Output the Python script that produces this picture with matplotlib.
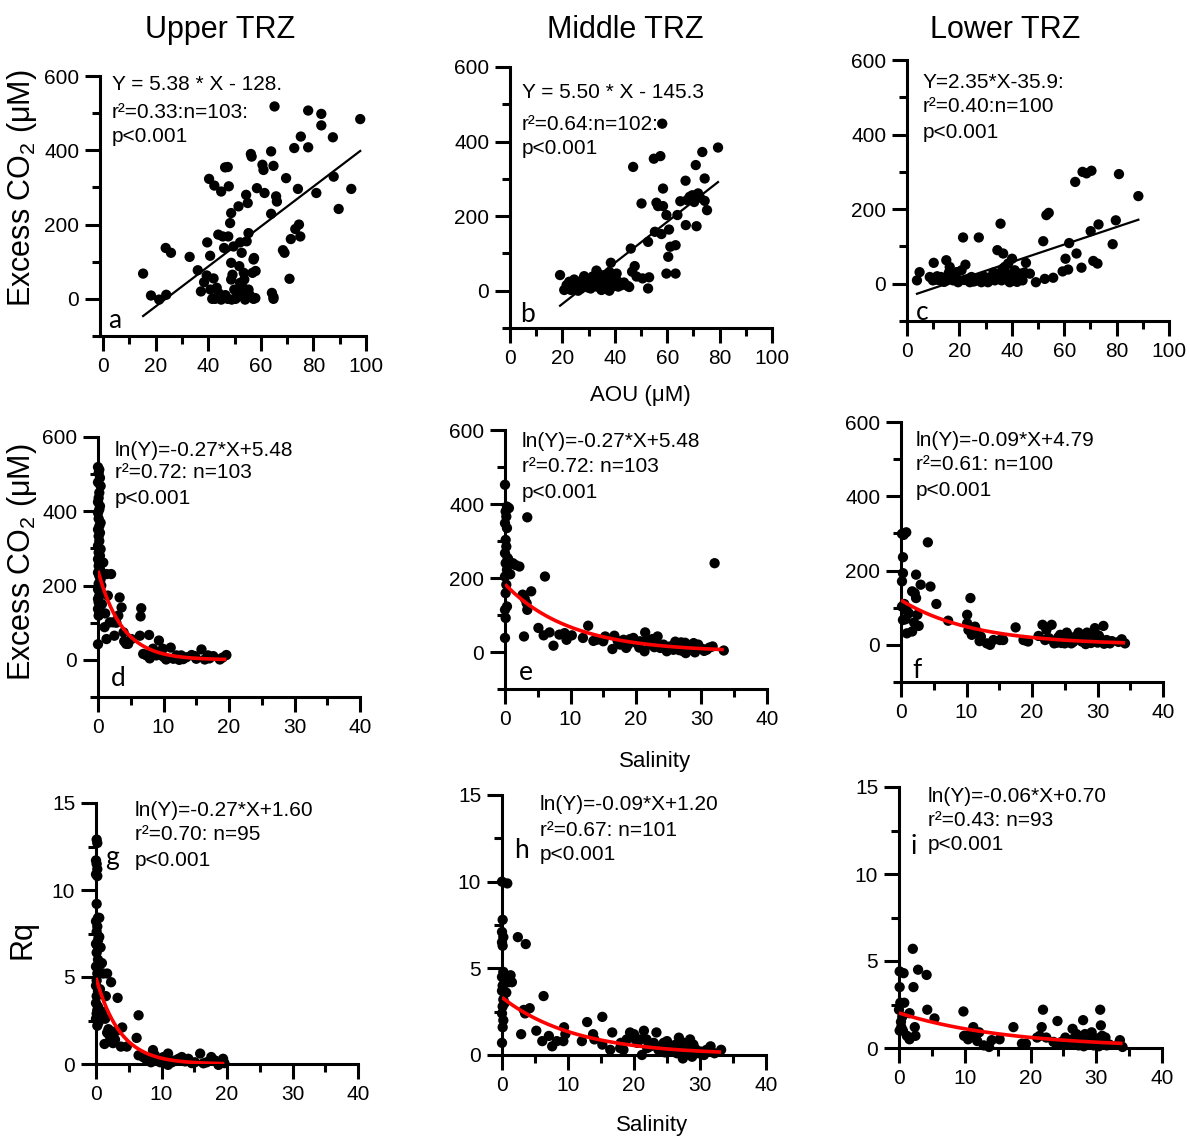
import numpy as np
import matplotlib.pyplot as plt
from matplotlib.ticker import MultipleLocator

plt.rcParams['font.family'] = ['Liberation Sans', 'DejaVu Sans']
plt.rcParams['mathtext.fontset'] = 'custom'
plt.rcParams['mathtext.rm'] = 'Liberation Sans'
plt.rcParams['mathtext.it'] = 'Liberation Sans:italic'

# ---- AOU vs excess CO2 (top row) ----
a_x = [15.2, 18.2, 21.3, 23.8, 24.0, 25.8, 32.9, 36.0, 37.2, 38.4,
       39.4, 39.6, 40.3, 40.7, 40.8, 41.5, 42.3, 42.6, 43.2, 43.8,
       44.9, 44.9, 45.5, 46.0, 46.4, 47.4, 47.4, 47.6, 47.8, 48.3,
       48.7, 48.7, 48.7, 48.9, 49.6, 49.9, 50.4, 51.5, 51.8, 52.1,
       52.1, 52.7, 53.1, 53.7, 54.0, 54.4, 54.6, 55.0, 55.3, 55.3,
       56.2, 56.5, 56.8, 57.2, 57.2, 57.4, 58.5, 60.6, 61.0, 61.4,
       63.9, 63.9, 64.2, 64.8, 64.8, 64.8, 65.2, 65.8, 66.1, 68.4,
       69.0, 69.6, 70.9, 71.4, 72.7, 73.1, 74.1, 74.5, 75.0, 75.2,
       78.0, 78.0, 81.1, 83.0, 83.0, 87.4, 87.7, 89.6, 94.4, 97.8,
       46.5, 50.8, 52.8, 55.8, 57.9, 44.0, 49.2, 53.5, 42.0, 58.0]
a_y = [68, 9, -2, 137, 11, 124, 113, 77, 20, 45,
       63, 152, 323, 116, 25, 0, 305, 0, 30, 173,
       289, -2, 168, 137, 354, 355, 0, 168, 303, 204,
       231, 97, 52, -2, 141, 25, 0, 249, 88, 152,
       43, 124, 16, 52, -2, 280, 155, 258, 177, 25,
       390, 383, 70, 106, 0, 110, 298, 361, 347, 285,
       229, 397, 16, 5, 358, 0, 518, 276, 262, 131,
       124, 325, 54, 161, 406, 188, 296, 200, 168, 437,
       408, 507, 285, 498, 467, 435, 329, 242, 296, 484,
       10, 5, 35, 10, 2, 15, 65, 70, 55, 75]

b_x = [19.1, 20.7, 21.6, 22.6, 23.3, 23.9, 24.8, 25.4, 26.1, 26.7,
       27.7, 28.3, 29.0, 29.6, 30.2, 31.1, 32.1, 33.0, 33.4, 34.3,
       34.9, 35.6, 36.2, 36.8, 37.5, 37.9, 38.5, 39.1, 40.0, 40.7,
       41.3, 42.6, 44.9, 46.1, 46.6, 47.0, 47.6, 48.3, 50.2, 50.6,
       52.7, 52.7, 53.1, 54.9, 55.3, 55.9, 56.5, 57.4, 57.8, 58.1,
       58.4, 58.4, 59.7, 59.7, 60.4, 60.7, 61.2, 63.2, 63.2, 63.9,
       67.0, 67.1, 67.6, 68.6, 69.6, 70.3, 70.9, 71.2, 71.8, 73.4,
       74.3, 74.3, 75.2, 79.4,
       22.0, 25.0, 27.0, 28.5, 30.8, 32.5, 35.0, 37.0, 39.5, 43.5,
       24.5, 31.5, 34.0, 38.0, 36.0, 26.0, 29.5, 33.8, 41.0, 45.5,
       65.0, 72.5]
b_y = [42, 2, 15, 24, 2, 11, 20, 2, 24, 11,
       15, 39, 20, 9, 29, 15, 24, 54, 11, 29,
       2, 20, 42, 6, 29, 0, 75, 11, 20, 46,
       11, 15, 13, 113, 51, 332, 66, 38, 234, 33,
       131, 6, 36, 354, 158, 236, 227, 361, 152, 448,
       274, 227, 203, 46, 91, 164, 118, 122, 46, 203,
       295, 176, 243, 252, 256, 238, 337, 173, 261, 372,
       301, 241, 216, 384,
       8, 14, 5, 22, 6, 12, 30, 18, 34, 22,
       30, 38, 44, 50, 8, 0, 30, 22, 26, 10,
       240, 250]

c_x = [3.8, 4.8, 8.7, 9.9, 10.2, 11.2, 12.5, 13.8, 15.0, 15.3,
       16.3, 16.9, 17.6, 18.9, 20.1, 20.8, 21.4, 22.3, 23.3, 24.6,
       26.5, 27.4, 28.4, 29.7, 30.9, 32.2, 33.5, 34.5, 35.2, 35.7,
       36.1, 36.7, 37.3, 38.0, 38.6, 39.2, 40.1, 41.1, 43.1, 44.1,
       45.4, 46.9, 49.2, 52.0, 52.6, 53.2, 54.1, 55.8, 59.4, 60.5,
       61.5, 61.9, 64.7, 66.6, 64.2, 67.0, 68.5, 70.4, 70.1, 71.1,
       72.7, 73.1, 78.5, 79.7, 80.9, 88.3,
       11.5, 14.2, 18.0, 19.5, 22.0, 25.5, 27.8, 31.5, 34.0, 36.5,
       37.8, 39.8, 42.0, 44.8, 33.0, 30.0, 24.0, 16.0, 13.0, 40.5]
c_y = [9, 31, 18, 9, 56, 11, 9, 13, 63, 9,
       45, 18, 9, 31, 9, 36, 124, 51, 13, 18,
       9, 124, 4, 18, 4, 18, 9, 90, 27, 161,
       9, 81, 45, 27, 54, 4, 67, 36, 27, 9,
       56, 27, 4, 114, 13, 184, 190, 16, 33, 67,
       38, 109, 81, 43, 273, 300, 296, 303, 141, 61,
       54, 159, 106, 170, 294, 235,
       20, 5, 22, 4, 10, 6, 15, 10, 22, 40,
       12, 20, 5, 30, 30, 8, 4, 30, 18, 8]

# ---- salinity vs excess CO2 (middle row) ----
d_x = [0.0, 0.2, 0.1, 0.3, 0.0, 0.4, 0.2, 0.1, 0.0, 0.3,
       0.2, 0.0, 0.1, 0.4, 0.2, 0.0, 0.3, 0.1, 0.2, 0.0,
       0.4, 0.1, 0.3, 0.0, 0.2, 0.1, 0.3, 0.0, 0.2, 0.4,
       0.1, 0.0, 0.3, 0.2, 0.0, 0.1, 0.3, 0.0, 0.2, 0.1, 0.0,
       0.8, 1.3, 2.0, 1.5, 1.3, 1.0, 1.8, 2.3, 2.5, 3.1,
       3.3, 3.6, 3.9, 4.3, 4.6, 5.1, 6.4, 6.6, 6.5, 6.9,
       7.4, 7.8, 7.9, 8.4, 8.9, 9.3, 9.9, 10.4, 11.1, 11.5,
       12.0, 12.7, 13.5, 14.3, 15.0, 15.8, 16.3, 17.6, 18.6, 19.6,
       8.0, 10.0, 11.8, 13.0, 14.8, 17.0, 19.0, 9.5, 12.4, 16.8,
       0.6, 0.5, 1.1, 2.8, 4.0]
d_y = [519, 512, 503, 490, 478, 468, 450, 436, 425, 414,
       405, 396, 380, 369, 360, 351, 342, 333, 320, 307,
       298, 289, 280, 271, 262, 253, 244, 235, 226, 217,
       205, 190, 182, 173, 164, 155, 146, 137, 128, 119, 42,
       262, 231, 231, 173, 56, 88, 101, 101, 65, 119,
       168, 141, 74, 43, 43, 56, 65, 139, 117, 16,
       12, 67, 4, 30, 12, 52, 30, 1, 33, 3,
       12, 12, 7, 13, 3, 28, 1, 10, 1, 13,
       20, 8, 5, 2, 10, 4, 6, 15, 0, 12,
       150, 200, 125, 100, 50]

e_x = [0.0, 0.3, 0.1, 0.2, 0.0, 0.3, 0.1, 0.2, 0.0, 0.4,
       0.1, 0.3, 0.0, 0.2, 0.1, 0.3, 0.0, 0.1, 0.0,
       0.6, 1.2, 2.2, 2.7, 2.9, 3.3, 3.4, 3.4, 4.0, 5.1,
       6.1, 5.9, 6.8, 7.4, 8.3, 9.1, 9.4, 11.9, 12.7, 14.0,
       15.0, 15.3, 16.4, 16.7, 17.6, 18.1, 18.5, 19.1, 19.6, 20.1,
       20.6, 21.3, 21.4, 21.6, 22.1, 22.8, 23.3, 23.7, 24.2, 24.7,
       25.2, 25.7, 26.2, 26.9, 27.2, 27.6, 27.8, 28.3, 28.8, 29.0,
       29.7, 30.4, 30.8, 31.7, 32.0, 33.4,
       0.5, 0.8, 1.6, 3.0, 13.5, 18.8, 23.0, 24.5, 25.8, 26.6,
       27.5, 28.6, 29.5, 30.2, 31.2, 26.0, 22.5, 20.5, 17.2, 10.2]
e_y = [452, 393, 380, 366, 348, 335, 303, 285, 267, 254,
       240, 222, 204, 182, 159, 123, 114, 92, 38,
       389, 240, 231, 155, 42, 132, 364, 114, 164, 65,
       204, 45, 53, 17, 47, 51, 33, 38, 71, 33,
       29, 42, 8, 44, 20, 33, 11, 35, 38, 24,
       29, 2, 53, 33, 20, 13, 42, 11, 20, 2,
       15, 6, 11, 26, 2, -3, 17, 6, 24, -1,
       11, 3, 6, 15, 240, 4,
       250, 210, 235, 145, 30, 20, 25, 10, 18, 5,
       25, 12, 20, 8, 12, 28, 35, 12, 30, 45]

f_x = [0.15, 0.8, 0.4, 0.3, 0.3, 0.15, 0.15, 0.3, 0.7, 0.9,
       0.9, 1.7, 1.7, 2.1, 2.3, 2.3, 2.5, 2.7, 3.0, 4.1,
       4.5, 5.4, 7.2, 10.1, 10.1, 10.6, 10.3, 10.8, 11.3, 11.6,
       12.2, 13.1, 13.6, 14.1, 15.1, 15.6, 17.5, 18.7, 19.4, 21.0,
       21.6, 22.0, 22.2, 23.0, 23.4, 23.8, 24.3, 24.7, 25.0, 25.3,
       25.8, 26.0, 26.5, 27.1, 27.6, 27.8, 28.2, 28.4, 28.8, 29.2,
       29.6, 30.0, 30.4, 30.9, 31.0, 31.4, 31.9, 33.7, 34.2,
       11.0, 12.0, 24.0, 25.5, 26.3, 26.8, 27.4, 28.0, 28.6, 29.0,
       29.8, 30.2, 30.7, 31.2, 32.2, 33.2, 19.0, 22.6, 24.5, 0.5,
       1.2, 2.0]
f_y = [299, 303, 296, 236, 193, 171, 103, 67, 69, 92,
       31, 36, 144, 139, 126, 189, 81, 51, 162, 276,
       157, 110, 65, 81, 58, 126, 40, 27, 49, 36,
       22, 4, 0, 13, 13, 13, 47, 13, 9, 24,
       54, 13, 40, 54, 4, 6, 27, 13, 4, 33,
       13, 4, 21, 33, 9, 22, 2, 33, 13, 27,
       45, 6, 18, 51, 3, 13, 4, 15, 4,
       30, 10, 20, 25, 8, 15, 25, 10, 20, 5,
       12, 25, 8, 5, 10, 8, 12, 18, 5, 110,
       85, 60]

# ---- salinity vs Rq (bottom row) ----
g_x = [0.1, 0.2, 0.0, 0.1, 0.2, 0.0, 0.2, 0.1, 0.3, 0.0,
       0.2, 0.1, 0.4, 0.3, 0.0, 0.2, 0.1, 0.3, 0.0, 0.2,
       0.1, 0.0, 0.3, 0.1, 0.0, 0.2, 0.1, 0.0, 0.2,
       0.5, 0.5, 0.6, 0.7, 0.9, 1.1, 1.4, 1.3, 1.7, 2.3,
       1.5, 1.7, 2.1, 2.6, 3.3, 3.1, 4.0, 3.8, 4.7, 6.5,
       6.2, 6.5, 7.2, 8.0, 8.7, 9.3, 10.3, 11.0, 11.0, 12.0,
       13.1, 14.1, 15.1, 15.9, 16.4, 17.6, 18.7, 19.4,
       7.6, 8.4, 9.0, 9.8, 10.7, 11.6, 12.6, 13.6, 14.6, 16.9,
       18.2, 19.6, 0.3, 0.4, 0.6, 1.0, 1.9, 2.9]
g_y = [12.9, 12.7, 11.7, 11.5, 11.2, 10.9, 10.8, 9.2, 8.4, 8.2,
       7.9, 7.6, 7.3, 7.1, 6.9, 6.8, 6.4, 6.0, 5.6, 5.2,
       4.8, 4.5, 4.2, 3.9, 3.5, 3.1, 2.9, 2.6, 2.2,
       8.4, 7.3, 5.7, 6.7, 5.8, 5.2, 2.6, 1.15, 5.2, 4.7,
       3.9, 1.8, 1.6, 1.2, 3.8, 1.9, 2.1, 1.0, 1.0, 2.8,
       1.5, 0.5, 0.4, 0.2, 0.8, 0.3, 0.4, 0.6, -0.05, 0.2,
       0.4, 0.3, 0.1, 0.6, 0.04, 0.4, -0.05, 0.3,
       0.3, 0.1, 0.5, 0.1, 0.2, 0.1, 0.3, 0.15, 0.05, 0.1,
       0.2, 0.05, 3.3, 2.4, 4.3, 3.0, 2.0, 1.4]

h_x = [0.0, 0.1, 0.0, 0.2, 0.0, 0.1, 0.2, 0.0, 0.3, 0.1,
       0.0, 0.2, 0.1, 0.0, 0.2, 0.1, 0.0,
       0.8, 0.5, 0.65, 1.3, 1.5, 2.4, 2.9, 3.3, 3.6, 3.5,
       4.2, 5.2, 6.1, 6.3, 7.1, 7.6, 8.3, 9.3, 9.4, 12.1,
       12.9, 13.8, 14.0, 15.2, 15.2, 16.4, 16.7, 17.9, 18.4, 18.9,
       19.4, 19.8, 20.5, 21.2, 21.5, 21.9, 22.5, 23.4, 23.7, 24.5,
       24.7, 25.3, 25.8, 26.3, 26.8, 27.0, 27.4, 27.6, 28.0, 28.5,
       28.8, 29.3, 30.1, 30.6, 31.6, 33.2,
       20.0, 21.0, 22.0, 24.0, 25.0, 26.0, 27.2, 28.2, 29.0, 29.8,
       31.0, 32.2, 1.0, 0.4, 9.6, 18.0, 26.5, 23.0]
h_y = [10.0, 7.8, 7.1, 6.8, 6.5, 6.3, 4.8, 4.5, 4.1, 4.0,
       3.7, 3.2, 2.8, 2.4, 2.0, 1.6, 0.7,
       9.9, 4.5, 3.6, 4.6, 4.2, 6.8, 1.2, 2.6, 6.4, 2.4,
       2.7, 1.4, 0.8, 3.4, 1.1, 0.5, 0.8, 0.8, 1.6, 0.8,
       1.9, 1.2, 0.9, 2.2, 0.6, 0.3, 1.3, 0.4, 0.3, 0.9,
       1.3, 1.0, 0.7, 0.0, 1.4, 0.9, 0.5, 1.3, 0.3, 0.7,
       0.15, 0.5, 0.2, 0.6, 1.0, 0.3, -0.2, 0.7, 0.5, 0.9,
       -0.1, 0.35, 0.2, 0.0, 0.5, 0.3,
       1.2, 0.9, 0.4, 0.5, 0.8, 0.4, 0.6, 0.2, 0.6, 0.1,
       0.3, 0.1, 4.2, 3.0, 1.2, 0.7, 0.1, 0.7]

i_x = [0.1, 0.7, 0.1, 0.2, 0.0, 0.35, 0.1, 0.6, 0.8, 1.2,
       1.6, 1.6, 2.1, 2.2, 2.4, 2.5, 2.9, 4.2, 4.3, 5.4,
       9.8, 9.9, 10.5, 11.3, 11.5, 12.2, 12.9, 13.7, 14.1, 15.3,
       17.4, 18.7, 19.3, 21.0, 21.7, 21.9, 22.4, 23.5, 24.1, 24.7,
       25.3, 25.8, 26.4, 26.6, 27.0, 27.3, 28.0, 28.3, 28.6, 28.8,
       29.3, 29.6, 30.1, 30.6, 30.7, 31.0, 31.4, 31.6, 33.6, 34.0,
       10.8, 11.9, 24.4, 25.5, 26.2, 27.6, 28.1, 29.0, 29.9, 30.4,
       31.2, 32.0, 33.3, 21.4, 27.8, 30.9, 0.3, 0.5]
i_y = [4.4, 4.3, 3.5, 2.6, 2.2, 1.2, 1.0, 1.0, 2.6, 0.7,
       0.5, 2.0, 5.7, 3.5, 1.2, 0.7, 4.5, 4.2, 2.2, 1.7,
       2.1, 0.7, 0.5, 1.2, 0.6, 0.9, 0.15, 0.06, 0.45, 0.5,
       1.2, 0.25, 0.25, 0.6, 1.2, 2.2, 0.6, 0.35, 1.55, 0.35,
       0.6, 0.2, 1.1, 0.55, 0.8, 0.15, 1.6, 0.8, 0.25, 0.55,
       0.9, 0.15, 0.55, 2.2, 1.3, 0.25, 0.6, 0.15, 0.45, 0.06,
       0.8, 0.4, 0.2, 0.4, 0.3, 0.3, 0.1, 0.3, 0.4, 0.1,
       0.4, 0.2, 0.2, 0.7, 0.6, 0.7, 1.5, 1.8]

# regression lines: Y = m*X + b (top row), ln(Y) = m*X + b (rows 2-3)
lin_slope = [5.38, 5.50, 2.35]
lin_icept = [-128.0, -145.3, -35.9]
exp_slope = [-0.27, -0.10, -0.09, -0.27, -0.09, -0.06]
exp_icept = [5.48, 5.21, 4.79, 1.60, 1.20, 0.70]

stats = [
    ['Y = 5.38 * X - 128.', 'r²=0.33:n=103:', 'p<0.001'],
    ['Y = 5.50 * X - 145.3', 'r²=0.64:n=102:', 'p<0.001'],
    ['Y=2.35*X-35.9:', 'r²=0.40:n=100', 'p<0.001'],
    ['ln(Y)=-0.27*X+5.48', 'r²=0.72: n=103', 'p<0.001'],
    ['ln(Y)=-0.27*X+5.48', 'r²=0.72: n=103', 'p<0.001'],
    ['ln(Y)=-0.09*X+4.79', 'r²=0.61: n=100', 'p<0.001'],
    ['ln(Y)=-0.27*X+1.60', 'r²=0.70: n=95', 'p<0.001'],
    ['ln(Y)=-0.09*X+1.20', 'r²=0.67: n=101', 'p<0.001'],
    ['ln(Y)=-0.06*X+0.70', 'r²=0.43: n=93', 'p<0.001'],
]
letters = ['a', 'b', 'c', 'd', 'e', 'f', 'g', 'h', 'i']
xs_all = [a_x, b_x, c_x, d_x, e_x, f_x, g_x, h_x, i_x]
ys_all = [a_y, b_y, c_y, d_y, e_y, f_y, g_y, h_y, i_y]

W, H = 1190, 1137
fig = plt.figure(figsize=(W / 100, H / 100), dpi=100)


def fpos(px, py):
    return px / W, 1 - py / H


# axes boxes in pixels: left, right, top, bottom
boxes = [(100, 366, 76, 336), (510, 772, 67, 328), (907, 1169, 60, 321),
         (98, 360, 437, 697), (505, 767, 430, 689), (901, 1163, 422, 682),
         (96, 358, 803, 1064), (502, 766, 795, 1055), (899, 1162, 787, 1048)]
# stats text: left x, line centres y
stat_pos = [(112, [85, 113, 137]), (522, [93, 125, 148]), (923, [82, 107, 132]),
            (115, [450, 473, 498]), (522, [442, 467, 492]), (916, [440, 465, 490]),
            (135, [811, 835, 860]), (540, [805, 830, 854]), (928, [796, 820, 845])]
letter_pos = [(115, 320), (527, 315), (922, 312), (118, 678), (526, 673),
              (917, 670), (112, 858), (521, 850), (914, 846)]

for k in range(9):
    l, r, t, b = boxes[k]
    ax = fig.add_axes([l / W, 1 - b / H, (r - l) / W, (b - t) / H])
    row = k // 3
    x = np.array(xs_all[k])
    y = np.array(ys_all[k])

    for s in ('top', 'right'):
        ax.spines[s].set_visible(False)
    for s in ('left', 'bottom'):
        ax.spines[s].set_linewidth(2.2)

    if row == 0:
        ax.set_xlim(-1.2 if k == 0 else 0, 100)
        ax.xaxis.set_major_locator(MultipleLocator(20))
        ax.xaxis.set_minor_locator(MultipleLocator(10))
    else:
        ax.set_xlim(0, 40)
        ax.xaxis.set_major_locator(MultipleLocator(10))
        ax.xaxis.set_minor_locator(MultipleLocator(5))
    if row < 2:
        ax.set_ylim(-100, 600)
        ax.yaxis.set_major_locator(MultipleLocator(200))
        ax.yaxis.set_minor_locator(MultipleLocator(100))
    else:
        ax.set_ylim(0, 15)
        ax.yaxis.set_major_locator(MultipleLocator(5))
        ax.yaxis.set_minor_locator(MultipleLocator(2.5))
    ax.tick_params(which='major', direction='out', length=11, width=2.2,
                   labelsize=15, pad=4)
    ax.tick_params(which='minor', direction='out', length=6, width=2.2)

    ax.scatter(x, y, s=55, c='black', edgecolors='none', zorder=3, clip_on=False)

    if row == 0:
        xx = np.array([x.min(), x.max()])
        ax.plot(xx, lin_slope[k] * xx + lin_icept[k], color='black', lw=1.6, zorder=4)
    else:
        j = k - 3
        xx = np.linspace(0, x.max(), 200)
        ax.plot(xx, np.exp(exp_icept[j] + exp_slope[j] * xx), color='red',
                lw=2.6, zorder=4, solid_capstyle='butt')

    sx, sys_ = stat_pos[k]
    for line, py in zip(stats[k], sys_):
        fig.text(*fpos(sx, py), line, fontsize=15, ha='left', va='center')
    fig.text(*fpos(*letter_pos[k]), letters[k], fontsize=19, family='Lato',
             ha='center', va='center')

# column titles
for title, cx in zip(['Upper TRZ', 'Middle TRZ', 'Lower TRZ'], [220, 625, 1005]):
    fig.text(*fpos(cx, 30), title, fontsize=22, ha='center', va='center')

# axis labels
fig.text(*fpos(22, 188), 'Excess CO$_2$ (μM)', fontsize=22, rotation=90,
         ha='center', va='center')
fig.text(*fpos(22, 562), 'Excess CO$_2$ (μM)', fontsize=22, rotation=90,
         ha='center', va='center')
fig.text(*fpos(22, 940), 'Rq', fontsize=22, rotation=90, ha='center', va='center')
fig.text(*fpos(640, 395), 'AOU (μM)', fontsize=16, ha='center', va='center')
fig.text(*fpos(655, 761), 'Salinity', fontsize=16, ha='center', va='center')
fig.text(*fpos(652, 1125), 'Salinity', fontsize=16, ha='center', va='center')

fig.savefig('out.png', dpi=100)
